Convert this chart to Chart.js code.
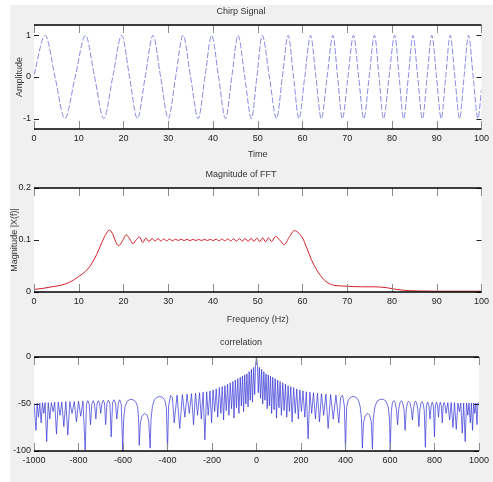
<!DOCTYPE html>
<html>
<head>
<meta charset="utf-8">
<script src="https://cdn.jsdelivr.net/npm/chart.js@4.4.1/dist/chart.umd.min.js"></script>
<style>
    html, body { margin: 0; padding: 0; background: #fff; }
    #fig { position: relative; width: 493px; height: 482px; overflow: hidden; }
    #bg { position: absolute; left: 10px; top: 5px; right: 0; bottom: 0; background: #f0f0f0; }
    canvas { position: absolute; left: 0; }
</style>
</head>
<body>
<div id="fig">
    <div id="bg"></div>
    <canvas id="chirpChart" width="493" height="165" style="top:0px"></canvas>
    <canvas id="fftChart" width="493" height="165" style="top:165px"></canvas>
    <canvas id="corrChart" width="493" height="152" style="top:330px"></canvas>
</div>
<script>
// ---- data ----

// chirp: [time, amplitude] at peaks, zero crossings and troughs
const chirpPts = [
    [0, 0.05], [2.5, 1], [4.7, 0], [6.9, -1], [9.2, 0], [11.5, 1], [13.55, 0], [15.6, -1],
    [17.6, 0], [19.6, 1], [21.35, 0], [23.1, -1], [24.85, 0], [26.6, 1], [28.3, 0], [30.0, -1],
    [31.65, 0], [33.3, 1], [35.0, 0], [36.7, -1], [38.2, 0], [39.7, 1], [41.25, 0], [42.8, -1],
    [44.2, 0], [45.6, 1], [47.1, 0], [48.6, -1], [49.8, 0], [51.0, 1], [52.6, 0], [54.2, -1],
    [55.5, 0], [56.8, 1], [58.0, 0], [59.2, -1], [60.5, 0], [61.8, 1], [63.0, 0], [64.2, -1],
    [65.5, 0], [66.8, 1], [67.85, 0], [68.9, -1], [70.15, 0], [71.4, 1], [72.55, 0], [73.7, -1],
    [74.9, 0], [76.1, 1], [77.1, 0], [78.1, -1], [79.35, 0], [80.6, 1], [81.6, 0], [82.6, -1],
    [83.65, 0], [84.7, 1], [85.75, 0], [86.8, -1], [87.85, 0], [88.9, 1], [89.95, 0], [91.0, -1],
    [92.0, 0], [93.0, 1], [94.05, 0], [95.1, -1], [96.1, 0], [97.1, 1], [98.15, 0], [99.2, -1],
    [100, -0.3]
];

// FFT magnitude: [frequency Hz, |X(f)|]
const fftPts = [
    [0, 0.005], [2, 0.007], [4, 0.010], [6, 0.013], [8, 0.019], [9, 0.024], [10, 0.030],
    [11, 0.036], [12, 0.044], [13, 0.056], [14, 0.072], [15, 0.092], [16, 0.110], [16.8, 0.119],
    [17.5, 0.113], [18.2, 0.098], [18.9, 0.089], [19.7, 0.097], [20.6, 0.110], [21.4, 0.102],
    [22.1, 0.093], [22.9, 0.101], [23.6, 0.106], [24.3, 0.095], [25.0, 0.104], [25.7, 0.097],
    [26.4, 0.103], [27.05, 0.098], [27.7, 0.1025], [28.35, 0.098], [29.0, 0.102], [29.65, 0.0985],
    [30.3, 0.1018], [30.95, 0.0985], [31.6, 0.1015], [32.25, 0.099], [32.9, 0.1015], [33.55, 0.099],
    [34.2, 0.1012], [34.85, 0.0988], [35.5, 0.1012], [36.15, 0.099], [36.8, 0.101], [37.45, 0.099],
    [38.1, 0.1012], [38.75, 0.099], [39.4, 0.1012], [40.05, 0.0988], [40.7, 0.1015], [41.35, 0.0985],
    [42.0, 0.1018], [42.65, 0.0985], [43.3, 0.102], [43.95, 0.098], [44.6, 0.1022], [45.25, 0.098],
    [45.9, 0.1025], [46.55, 0.0978], [47.2, 0.1028], [47.85, 0.0975], [48.5, 0.103], [49.15, 0.0975],
    [49.8, 0.1035], [50.45, 0.097], [51.1, 0.104], [51.75, 0.0965], [52.4, 0.104], [53.1, 0.097],
    [54.0, 0.107], [55.0, 0.099], [55.9, 0.091], [57.0, 0.105], [58.2, 0.118], [59.2, 0.113],
    [60.0, 0.104], [61.0, 0.084], [62.0, 0.062], [63.0, 0.045], [64.0, 0.032], [65.0, 0.022],
    [66.0, 0.016], [67.0, 0.013], [68.0, 0.012], [70.0, 0.011], [73.0, 0.010], [76.0, 0.010],
    [79.0, 0.008], [81.0, 0.005], [83.0, 0.003], [86.0, 0.002], [90.0, 0.0015], [100, 0.0015]
];

// correlation in dB: [lag, dB], lobe peaks and nulls, negative lags
const corrLeft = [
    [-1000, -49], [-991, -78], [-986, -49], [-980, -64], [-974, -49], [-968, -70], [-962, -48.5],
    [-956, -60], [-950, -48.5], [-943, -90], [-936, -48.5], [-929, -66], [-922, -48.5], [-914, -58],
    [-907, -48], [-899, -82], [-891, -48], [-883, -62], [-875, -48], [-866, -74], [-857, -47.5],
    [-848, -83], [-839, -47.5], [-829, -60], [-819, -47.5], [-809, -69], [-800, -47], [-790, -63],
    [-780, -47], [-770, -99], [-764, -50], [-758, -46.5], [-752, -50], [-746, -72], [-740, -50],
    [-734, -46.5], [-728, -50], [-722, -66], [-716, -49], [-711, -46.5], [-705, -49], [-700, -60],
    [-694, -49], [-689, -46], [-683, -49], [-678, -72], [-672, -49], [-666, -46], [-659, -49],
    [-653, -85], [-647, -49], [-641, -45.5], [-634, -49], [-628, -66], [-621, -49], [-615, -45.5],
    [-608, -50], [-601, -100],
    [-597, -66], [-591, -53], [-581, -47], [-568, -45], [-555, -45.5], [-543, -47.5], [-534, -53],
    [-530, -66], [-527, -94],
    [-522, -70], [-515, -63], [-503, -60], [-491, -62], [-484, -69], [-478, -97],
    [-474, -66], [-468, -53], [-460, -46], [-448, -43], [-435, -42], [-422, -43], [-412, -46],
    [-405, -54], [-400, -100],
    [-395, -52], [-386, -41], [-378, -43], [-370, -70], [-357, -40.5], [-345, -76], [-333, -40],
    [-322, -64], [-312, -39.5], [-302, -60], [-292, -39], [-283, -72], [-274, -38.5], [-265, -62],
    [-256, -38], [-248, -66], [-240, -37.5], [-232, -88], [-224, -37], [-217, -62], [-209, -36],
    [-202, -70], [-195, -35], [-188, -58], [-181, -34], [-174, -64], [-167, -32.5], [-160, -60],
    [-154, -31.5], [-148, -67], [-142, -30.5], [-136, -57], [-130, -29], [-124, -62], [-118, -27.5],
    [-112, -55], [-106, -26], [-101, -65], [-95, -24.5], [-90, -54], [-84, -23], [-79, -60],
    [-73, -21.5], [-68, -52], [-63, -20.5], [-58, -58], [-53, -19], [-48, -50], [-43, -18],
    [-38, -53], [-33, -15.5], [-28, -46], [-23, -13], [-18, -48], [-13, -11], [-8, -40], [-4, -8]
];

// correlation in dB, zero and positive lags
const corrRight = [
    [0, 0], [4, -8], [8, -38], [13, -11], [18, -44], [23, -13], [28, -50], [33, -15.5], [38, -46],
    [43, -18], [48, -55], [53, -19], [58, -52], [63, -20.5], [68, -60], [73, -21.5], [79, -56],
    [84, -23], [90, -65], [95, -24.5], [101, -54], [106, -26], [112, -62], [118, -27.5], [124, -57],
    [130, -29], [136, -64], [142, -30.5], [148, -58], [154, -31.5], [160, -69], [167, -32.5],
    [174, -60], [181, -34], [188, -66], [195, -35], [202, -58], [209, -36], [217, -64], [224, -37],
    [232, -87], [240, -37.5], [248, -60], [256, -38], [265, -66], [274, -38.5], [283, -69],
    [292, -39], [302, -62], [312, -39.5], [322, -76], [333, -40], [345, -66], [357, -40.5],
    [370, -70], [378, -43], [387, -41], [395, -52], [400, -100],
    [405, -54], [412, -46], [422, -43], [435, -42], [448, -43], [458, -46], [466, -53], [472, -66],
    [476, -97],
    [481, -70], [488, -63], [498, -60], [509, -62], [516, -69], [521, -98],
    [525, -66], [532, -53], [542, -47], [556, -45], [570, -45], [582, -47], [592, -53], [598, -66],
    [601, -100],
    [606, -58], [611, -48.5], [617, -46.5], [623, -48.5], [629, -56], [634, -72], [639, -56],
    [645, -48.5], [651, -46.5], [657, -48.5], [663, -56], [668, -78], [673, -56], [679, -48.5],
    [684, -47], [690, -48.5], [696, -56], [701, -67], [705, -56], [710, -49], [715, -47], [720, -49],
    [725, -56], [730, -74], [734, -57], [739, -49.5], [744, -47.5], [749, -49.5], [754, -57],
    [759, -96], [764, -52], [769, -48], [775, -52], [780, -66], [785, -52], [790, -48], [795, -52],
    [800, -85], [804, -52], [809, -48], [814, -52], [818, -64], [822, -52], [826, -48], [831, -52],
    [835, -70], [839, -52], [843, -48.5], [848, -52], [852, -60], [860, -48.5], [868, -67],
    [875, -48.5], [883, -75], [890, -48.5], [898, -77], [905, -49], [912, -58], [918, -49],
    [925, -81], [931, -49], [938, -90], [944, -49], [950, -62], [955, -49], [961, -70], [966, -49],
    [971, -78], [976, -49], [981, -60], [986, -49], [991, -72], [995, -49], [1000, -49]
];

// tick values
const chirpXTicks = [0, 10, 20, 30, 40, 50, 60, 70, 80, 90, 100];
const chirpYTicks = [-1, 0, 1];
const fftXTicks = [0, 10, 20, 30, 40, 50, 60, 70, 80, 90, 100];
const fftYTicks = [0, 0.1, 0.2];
const corrXTicks = [-1000, -800, -600, -400, -200, 0, 200, 400, 600, 800, 1000];
const corrYTicks = [-100, -50, 0];

// ---- styling helpers ----
Chart.defaults.font.family = "'Liberation Sans Narrow', 'Liberation Sans', sans-serif";
Chart.defaults.color = '#222';

const toXY = pts => pts.map(p => ({ x: p[0], y: p[1] }));

// white plot area, MATLAB-like inward ticks, top/bottom box lines
const frame = {
    id: 'frame',
    beforeDraw(chart) {
        const { ctx, chartArea: a } = chart;
        ctx.save();
        ctx.fillStyle = '#fff';
        ctx.fillRect(a.left, a.top, a.right - a.left, a.bottom - a.top);
        ctx.restore();
    },
    afterDraw(chart) {
        const { ctx, chartArea: a, scales: { x, y } } = chart;
        ctx.save();
        ctx.lineWidth = 1;
        ctx.strokeStyle = '#8c8c8c';
        ctx.beginPath();
        x.ticks.forEach(t => {
            const px = Math.round(x.getPixelForValue(t.value)) + 0.5;
            ctx.moveTo(px, a.top); ctx.lineTo(px, a.top + 8);
            ctx.moveTo(px, a.bottom); ctx.lineTo(px, a.bottom - 8);
        });
        ctx.stroke();
        ctx.strokeStyle = '#222';
        ctx.beginPath();
        y.ticks.forEach(t => {
            const py = Math.round(y.getPixelForValue(t.value)) + 0.5;
            ctx.moveTo(a.left, py); ctx.lineTo(a.left + 5, py);
            ctx.moveTo(a.right, py); ctx.lineTo(a.right - 5, py);
        });
        ctx.stroke();
        ctx.strokeStyle = '#000';
        ctx.lineWidth = 1.5;
        ctx.beginPath();
        ctx.moveTo(a.left, a.top); ctx.lineTo(a.right, a.top);
        ctx.moveTo(a.left, a.bottom); ctx.lineTo(a.right, a.bottom);
        ctx.stroke();
        ctx.restore();
    }
};

function xAxis(min, max, ticks, title, height) {
    return {
        type: 'linear', min: min, max: max,
        afterBuildTicks: axis => { axis.ticks = ticks.map(v => ({ value: v })); },
        afterFit: axis => { axis.height = height; },
        grid: { display: false, drawTicks: false },
        border: { display: false },
        ticks: { padding: 4, maxRotation: 0, autoSkip: false, font: { size: 9 }, color: '#222',
                 callback: v => String(v) },
        title: title ? { display: true, text: title, color: '#333',
                         font: { size: 9, lineHeight: '12px' }, padding: { top: 0, bottom: 4 } }
                     : { display: false }
    };
}

function yAxis(min, max, ticks, title, titlePad) {
    return {
        type: 'linear', min: min, max: max,
        afterBuildTicks: axis => { axis.ticks = ticks.map(v => ({ value: v })); },
        afterFit: axis => { axis.width = 34; },
        grid: { display: false, drawTicks: false },
        border: { display: false },
        ticks: { padding: 3, autoSkip: false, font: { size: 9 }, color: '#222',
                 callback: v => String(v) },
        title: title ? { display: true, text: title, color: '#333',
                         font: { size: 9, lineHeight: '12px' }, padding: { top: titlePad, bottom: 0 } }
                     : { display: false }
    };
}

function titleOpts(text, top, bottom) {
    return { display: true, text: text, color: '#333',
             font: { size: 9, weight: 'normal', lineHeight: '12px' },
             padding: { top: top, bottom: bottom } };
}

// ---- chirp signal ----
new Chart(document.getElementById('chirpChart'), {
    type: 'line',
    data: {
        datasets: [{
            data: toXY(chirpPts),
            borderColor: 'rgba(110, 110, 220, 0.8)',
            borderWidth: 1,
            borderDash: [6, 2],
            pointRadius: 0,
            cubicInterpolationMode: 'monotone'
        }]
    },
    options: {
        responsive: false, animation: false, parsing: false,
        layout: { padding: { left: 0, right: 11, top: 0, bottom: 0 } },
        plugins: { legend: { display: false }, tooltip: { enabled: false },
                   title: titleOpts('Chirp Signal', 6, 7) },
        scales: {
            x: xAxis(0, 100, chirpXTicks, 'Time', 36),
            y: yAxis(-1.25, 1.25, chirpYTicks, 'Amplitude', 14)
        }
    },
    plugins: [frame]
});

// ---- magnitude of FFT ----
new Chart(document.getElementById('fftChart'), {
    type: 'line',
    data: {
        datasets: [{
            data: toXY(fftPts),
            borderColor: '#d0202a',
            borderWidth: 1,
            pointRadius: 0,
            cubicInterpolationMode: 'monotone'
        }]
    },
    options: {
        responsive: false, animation: false, parsing: false,
        layout: { padding: { left: 0, right: 11, top: 0, bottom: 0 } },
        plugins: { legend: { display: false }, tooltip: { enabled: false },
                   title: titleOpts('Magnitude of FFT', 4, 7) },
        scales: {
            x: xAxis(0, 100, fftXTicks, 'Frequency (Hz)', 38),
            y: yAxis(0, 0.2, fftYTicks, 'Magnitude |X(f)|', 9)
        }
    },
    plugins: [frame]
});

// ---- correlation ----
new Chart(document.getElementById('corrChart'), {
    type: 'line',
    data: {
        datasets: [{
            data: toXY(corrLeft.concat(corrRight)),
            borderColor: 'rgba(50, 50, 215, 0.7)',
            borderWidth: 1,
            pointRadius: 0,
            tension: 0
        }]
    },
    options: {
        responsive: false, animation: false, parsing: false,
        layout: { padding: { left: 0, right: 11, top: 0, bottom: 0 } },
        plugins: { legend: { display: false }, tooltip: { enabled: false },
                   title: titleOpts('correlation', 7, 8) },
        scales: {
            x: xAxis(-1000, 1000, corrXTicks, '', 31),
            y: yAxis(-100, 0, corrYTicks, '', 0)
        }
    },
    plugins: [frame]
});
</script>
</body>
</html>
